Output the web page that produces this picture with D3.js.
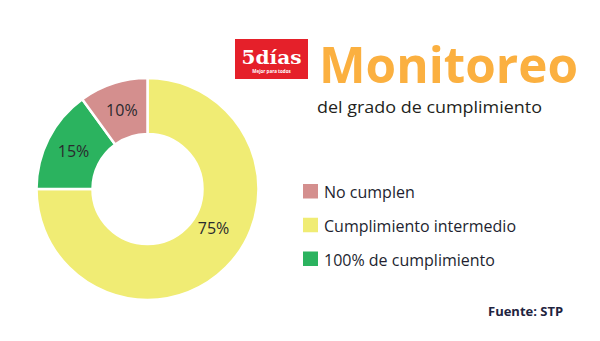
<!DOCTYPE html>
<html><head><meta charset="utf-8">
<script src="https://cdn.jsdelivr.net/npm/d3@7"></script>
<style>html,body{margin:0;padding:0;background:#fff;}svg{display:block;}</style>
</head><body>
<svg id="c" width="600" height="341"></svg>
<script>
const categories = ["Cumplimiento intermedio", "100% de cumplimiento", "No cumplen"];
const values = [75, 15, 10];
const labels = ["75%", "15%", "10%"];
const legendOrder = ["No cumplen", "Cumplimiento intermedio", "100% de cumplimiento"];
const colors = {"No cumplen":"#d48f8e","Cumplimiento intermedio":"#f0ec74","100% de cumplimiento":"#2bb35f"};

const svg = d3.select("#c");
const font = "'Open Sans', sans-serif";
const cx = 147.5, cy = 189, rOut = 111, rIn = 55;

const pie = d3.pie().sort(null).value(d => d)(values);
const arc = d3.arc().innerRadius(rIn).outerRadius(rOut);
const g = svg.append("g").attr("transform", `translate(${cx},${cy})`);
g.selectAll("path").data(pie).join("path")
  .attr("d", arc)
  .attr("fill", (d,i) => colors[categories[i]])
  .attr("stroke", "#fff").attr("stroke-width", 2.5).attr("stroke-linejoin","miter");

const labelArc = d3.arc().innerRadius(83).outerRadius(83);
g.selectAll("text.pct").data(pie).join("text").attr("class","pct")
  .attr("transform", (d,i) => {
    let c;
    if (i === 0) { // large slice label sits higher, near 121deg
      const a = 121 * Math.PI/180, r = 77;
      c = [r*Math.sin(a), -r*Math.cos(a)];
    } else c = labelArc.centroid(d);
    return `translate(${c[0]},${c[1]})`;
  })
  .attr("text-anchor","middle").attr("dy","0.35em")
  .attr("font-family", font).attr("font-size", 16).attr("fill","#2a2a2e")
  .text((d,i) => labels[i]);

// Logo
svg.append("rect").attr("x",235).attr("y",39).attr("width",73).attr("height",40).attr("fill","#e5202a");
svg.append("text").attr("x",271.5).attr("y",63.5).attr("text-anchor","middle")
  .attr("font-family","'DejaVu Serif', serif").attr("font-weight","bold").attr("font-size",19)
  .attr("fill","#fff").attr("textLength",60).attr("lengthAdjust","spacingAndGlyphs").text("5días");
svg.append("text").attr("x",271.5).attr("y",72.5).attr("text-anchor","middle")
  .attr("font-family",font).attr("font-weight","bold").attr("font-size",4.5)
  .attr("fill","#fff").text("Mejor para todos");

// Title
svg.append("text").attr("x",319).attr("y",83)
  .attr("font-family",font).attr("font-weight","bold").attr("font-size",50)
  .attr("fill","#fbb040").attr("textLength",259).attr("lengthAdjust","spacingAndGlyphs").text("Monitoreo");
svg.append("text").attr("x",317).attr("y",113)
  .attr("font-family",font).attr("font-size",15.5)
  .attr("fill","#231f20").attr("textLength",225).attr("lengthAdjust","spacingAndGlyphs").text("del grado de cumplimiento");

// Legend
const y = d3.scalePoint().domain(legendOrder).range([184, 251.5]);
const lg = svg.append("g");
const items = lg.selectAll("g").data(legendOrder).join("g").attr("transform", d => `translate(303,${y(d)})`);
items.append("rect").attr("width",15).attr("height",14.5).attr("fill", d => colors[d]);
items.append("text").attr("x",21).attr("y",14).attr("font-family",font).attr("font-size",16)
  .attr("fill","#231f30").text(d => d);

svg.append("text").attr("x",488).attr("y",315.5)
  .attr("font-family",font).attr("font-weight","bold").attr("font-size",13)
  .attr("fill","#1f2440").text("Fuente: STP");
</script>
</body></html>
